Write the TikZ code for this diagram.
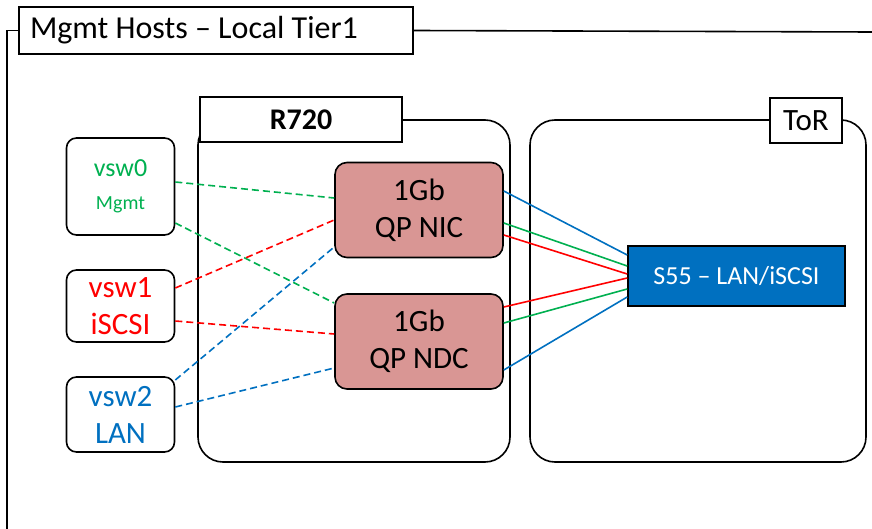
\documentclass[tikz,border=0pt]{standalone}
\usepackage{fontspec}
\setmainfont{Carlito}
\usetikzlibrary{positioning}
\definecolor{ms-green}{HTML}{00B050}
\definecolor{ms-red}{HTML}{FF0000}
\definecolor{ms-blue}{HTML}{0070C0}
\definecolor{nic-fill}{HTML}{D99694}
\tikzset{
  frame/.style={draw, line width=1.6pt},
  label box/.style={frame, fill=white, inner sep=0pt, font=\fontsize{31}{34}\selectfont},
  container/.style={frame, rounded corners=25pt, inner sep=0pt},
  vswitch/.style={frame, rounded corners=10pt, inner sep=0pt, align=center,
    minimum width=108pt, font=\fontsize{31}{37}\selectfont},
  nic/.style={frame, rounded corners=12pt, fill=nic-fill, inner sep=0pt, align=center,
    minimum width=168pt, minimum height=95pt, font=\fontsize{31}{37}\selectfont},
  vlink/.style={line width=1.6pt, dash pattern=on 7pt off 4pt},
  uplink/.style={line width=1.6pt},
}
\begin{document}
\begin{tikzpicture}[x=1pt, y=-1pt]
  \useasboundingbox (0,0) rectangle (872,529);

  % outer frame
  \node[label box, inner xsep=11pt, text width=372pt, align=flush left, minimum height=47pt,
    font=\fontsize{32}{36}\selectfont] (title) at (216,30.5) {Mgmt Hosts -- Local Tier1};
  \coordinate (frame-bl) at (7,529);
  \coordinate (frame-tr) at (872,32);
  \draw[frame] (frame-bl) -- (frame-bl |- title.west) -- (title.west);
  \draw[frame] (title.east) -- (frame-tr);

  % containers
  \node[container, minimum width=312pt, minimum height=342pt] (r720) at (354,291) {};
  \node[container, minimum width=336pt, minimum height=342pt] (tor) at (698,291) {};
  \node[label box, minimum width=202pt, minimum height=45pt, font=\fontsize{30}{34}\selectfont\bfseries] (r720-lbl) at (301,119.5) {R720};
  \node[label box, minimum width=72pt, minimum height=45pt] (tor-lbl) at (806,120.5) {ToR};

  % virtual switches
  \node[vswitch, minimum height=97pt, text=ms-green] (vsw0) at (120.5,186.5)
    {\fontsize{26}{34}\selectfont vsw0\\[-4pt] \fontsize{20}{24}\selectfont Mgmt};
  \node[vswitch, minimum height=72pt, text=ms-red] (vsw1) at (120.5,306) {vsw1\\iSCSI};
  \node[vswitch, minimum height=75pt, text=ms-blue] (vsw2) at (120.5,414.5) {vsw2\\LAN};

  % adapters
  \node[nic] (nic) at (419,210) {1Gb\\QP NIC};
  \node[nic] (ndc) at (419,341.5) {1Gb\\QP NDC};

  % switch
  \node[frame, fill=ms-blue, text=white, minimum width=217pt, minimum height=60pt,
    inner sep=0pt, font=\fontsize{26}{30}\selectfont] (s55) at (736.5,276) {S55 -- LAN/iSCSI};

  % port groups to adapters
  \foreach \a/\sa/\b/\sb/\c in {vsw0/4.5/nic/12/ms-green, vsw0/-36.5/ndc/38.5/ms-green,
      vsw1/18/nic/-10/ms-red, vsw1/-15/ndc/7.5/ms-red,
      vsw2/34.5/nic/-37/ms-blue, vsw2/7.5/ndc/-26.5/ms-blue}
    \draw[vlink, \c] ([yshift=\sa pt]\a.east) -- ([yshift=\sb pt]\b.west);

  % adapters to switch
  \foreach \a/\sa/\sb/\c in {nic/19/21/ms-blue, nic/-13/10/ms-green, nic/-25/2/ms-red,
      ndc/34.5/-2/ms-red, ndc/18.5/-13/ms-green, ndc/-28.5/-21/ms-blue}
    \draw[uplink, \c] ([yshift=\sa pt]\a.east) -- ([yshift=\sb pt]s55.west);
\end{tikzpicture}
\end{document}
